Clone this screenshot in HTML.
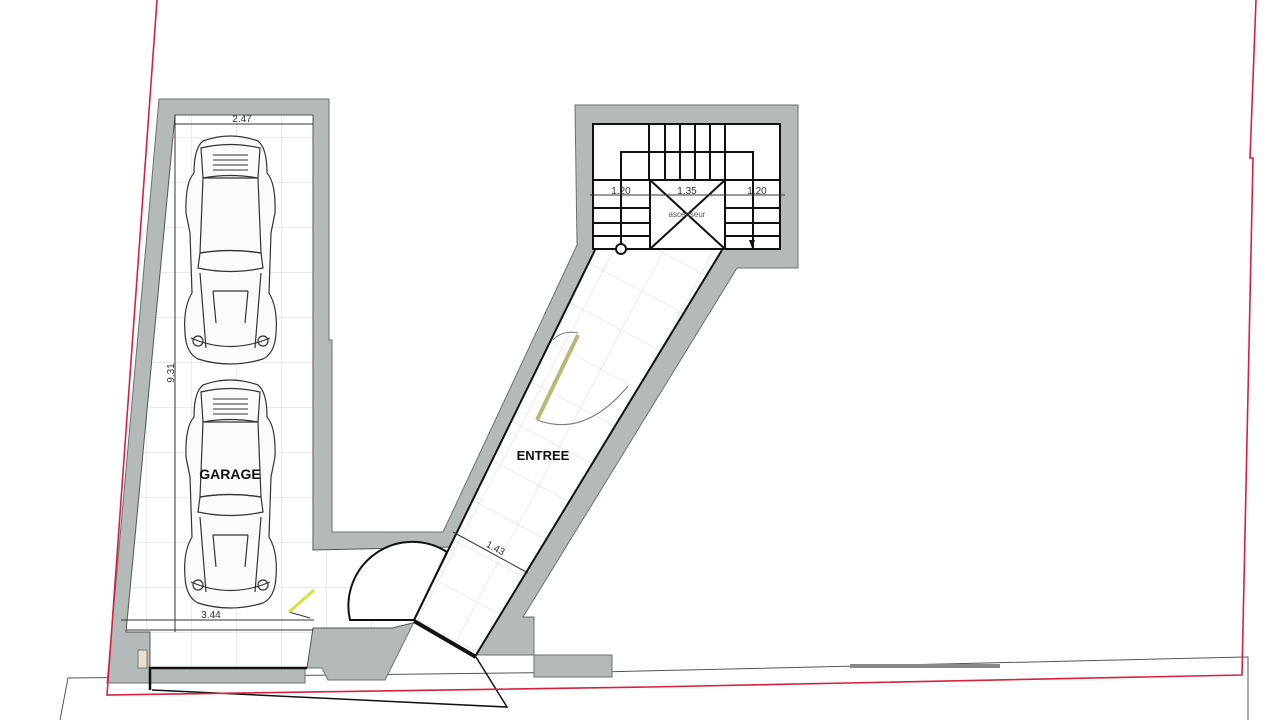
<!DOCTYPE html>
<html><head><meta charset="utf-8"><style>
html,body{margin:0;padding:0;background:#fff;}
svg{display:block;}
text{font-family:"Liberation Sans",sans-serif;}
</style></head><body>
<svg width="1280" height="720" viewBox="0 0 1280 720" xmlns="http://www.w3.org/2000/svg">
<defs>
<pattern id="g1" width="45" height="45" patternUnits="userSpaceOnUse" x="12" y="3">
<path d="M45 0V45M0 45H45" fill="none" stroke="#d6d9d9" stroke-width="1"/>
</pattern>
<pattern id="g2" width="44" height="44" patternUnits="userSpaceOnUse" patternTransform="rotate(28)">
<path d="M44 0V44M0 44H44" fill="none" stroke="#d6d9d9" stroke-width="1"/>
</pattern>
<g id="car" fill="none" stroke="#333" stroke-width="1.2">
<path d="M20 8 Q47 -2 75 8 Q84 15 84 40 Q93 50 92 80 L88 100 L86 160 Q95 175 93 200 Q92 220 80 226 Q47 236 15 226 Q3 220 2 200 Q0 175 9 160 L7 100 L3 80 Q2 50 11 40 Q11 15 20 8 Z" fill="#fbfbfb"/>
<path d="M18 15 Q47 8 77 15 L75 45 L20 45 Z"/>
<path d="M30 22 H65 M30 27 H65 M30 32 H65 M30 37 H65" stroke-width="1"/>
<path d="M20 45 Q47 40 75 45 L78 120 Q47 115 17 120 Z"/>
<path d="M17 120 Q47 115 78 120 L80 135 Q47 142 15 135 Z"/>
<path d="M17 140 L23 215 M78 140 L72 215 M30 158 L33 190 M65 158 L62 190 M30 158 H65"/>
<path d="M8 205 Q47 222 87 205"/>
<circle cx="15" cy="208" r="5"/><circle cx="80" cy="208" r="5"/>
</g>
</defs>

<!-- bottom thin outlines -->
<polyline points="60,720 68,678 600,672 1245,657 1248,657 1248,720" fill="none" stroke="#555" stroke-width="1"/>
<rect x="850" y="664" width="150" height="4" fill="#888"/>

<!-- gray walls -->
<polygon points="159,99 329,99 329,340 332,340 332,532 443,532 577,245 575,105 798,105 798,268 737,268 523,617 534,617 534,655 476,655 414,622 385,680 328,680 322,668 305,668 305,683 107,683" fill="#b3bab9" stroke="#6b7170" stroke-width="1"/>
<polygon points="534,655 612,655 612,677 534,677" fill="#b3bab9" stroke="#6b7170" stroke-width="1"/>

<!-- garage floor -->
<polygon points="175,115 313,115 313,550 453,547 417,622 392,628 313,628 307,668 150,668 150,632 126,632" fill="#fff"/>
<polygon points="175,115 313,115 313,550 453,547 417,622 392,628 313,628 307,668 150,668 150,632 126,632" fill="url(#g1)" stroke="#555" stroke-width="1"/>
<!-- entrance floor -->
<polygon points="595,250 722,250 476,655 414,620" fill="#fff"/>
<polygon points="595,250 722,250 476,655 414,620" fill="url(#g2)"/>
<line x1="595" y1="250" x2="414" y2="620" stroke="#111" stroke-width="2"/>
<line x1="722" y1="250" x2="476" y2="655" stroke="#111" stroke-width="2"/>
<!-- stair floor -->
<rect x="593" y="124" width="187" height="125" fill="#fff" stroke="#111" stroke-width="2"/>

<!-- stairs -->
<g stroke="#111" stroke-width="2" fill="none">
<polyline points="621,249 621,152 753,152 753,249"/>
<path d="M649 124V180M665 124V180M680 124V180M695 124V180M710 124V180M725 124V180"/>
<rect x="650" y="180" width="75" height="69"/>
<path d="M650 180L725 249M725 180L650 249"/>
<path d="M593 180H650M593 208H650M593 223H650M593 236H650"/>
<path d="M725 180H780M725 208H780M725 223H780M725 236H780"/>
<circle cx="621" cy="249" r="5" fill="#fff"/>
</g>
<line x1="590" y1="195" x2="785" y2="195" stroke="#333" stroke-width="1"/>
<path d="M749 240L752 248L755 240Z" fill="#111"/>
<text x="621" y="194" font-size="10" text-anchor="middle" fill="#333">1.20</text>
<text x="687" y="194" font-size="10" text-anchor="middle" fill="#333">1.35</text>
<text x="757" y="194" font-size="10" text-anchor="middle" fill="#333">1.20</text>
<text x="687" y="217" font-size="8" text-anchor="middle" fill="#555">ascenseur</text>

<!-- cars -->
<use href="#car" x="183" y="133"/>
<use href="#car" x="183" y="377"/>

<!-- dimensions -->
<g stroke="#333" stroke-width="1" fill="none">
<line x1="175" y1="124" x2="313" y2="124"/>
<line x1="175" y1="115" x2="175" y2="632"/>
<line x1="121" y1="620" x2="314" y2="620"/>
<line x1="126" y1="630" x2="313" y2="630"/>
<line x1="453" y1="532" x2="528" y2="573"/>
<line x1="289" y1="612" x2="310" y2="618"/>
</g>
<text x="242" y="122" font-size="10" text-anchor="middle" fill="#333">2.47</text>
<text x="211" y="618" font-size="10" text-anchor="middle" fill="#333">3.44</text>
<text transform="translate(174,373) rotate(-90)" font-size="10" text-anchor="middle" fill="#333">9.31</text>
<text transform="translate(494,551) rotate(28)" font-size="10" text-anchor="middle" fill="#333">1.43</text>
<line x1="289" y1="612" x2="314" y2="590" stroke="#d8e03a" stroke-width="3"/>

<!-- doors -->
<path d="M350 620 A64 64 0 0 1 447 552 L414 620 Z" fill="#fff" stroke="#111" stroke-width="2"/>
<line x1="414" y1="621" x2="476" y2="657" stroke="#111" stroke-width="4"/>
<polyline points="476,657 507,707 152,690" fill="none" stroke="#111" stroke-width="1.5"/>
<path d="M553 340 Q562 330 578 333 M537 420 Q585 438 628 386" fill="none" stroke="#777" stroke-width="1"/>
<line x1="578" y1="335" x2="537" y2="420" stroke="#b8b878" stroke-width="4"/>
<polyline points="150,690 150,668 307,668" fill="none" stroke="#111" stroke-width="2.5"/>
<rect x="138" y="650" width="9" height="18" fill="#e8e2cc" stroke="#777" stroke-width="1"/>

<!-- labels -->
<text x="230" y="479" font-size="14" font-weight="bold" text-anchor="middle" fill="#111">GARAGE</text>
<text x="543" y="460" font-size="13" font-weight="bold" text-anchor="middle" fill="#111">ENTREE</text>

<!-- red property line -->
<polyline points="157,0 107,695 650,687 1242,675 1253,158 1250,158 1256,0" fill="none" stroke="#d8213f" stroke-width="1.6"/>
</svg>
</body></html>
